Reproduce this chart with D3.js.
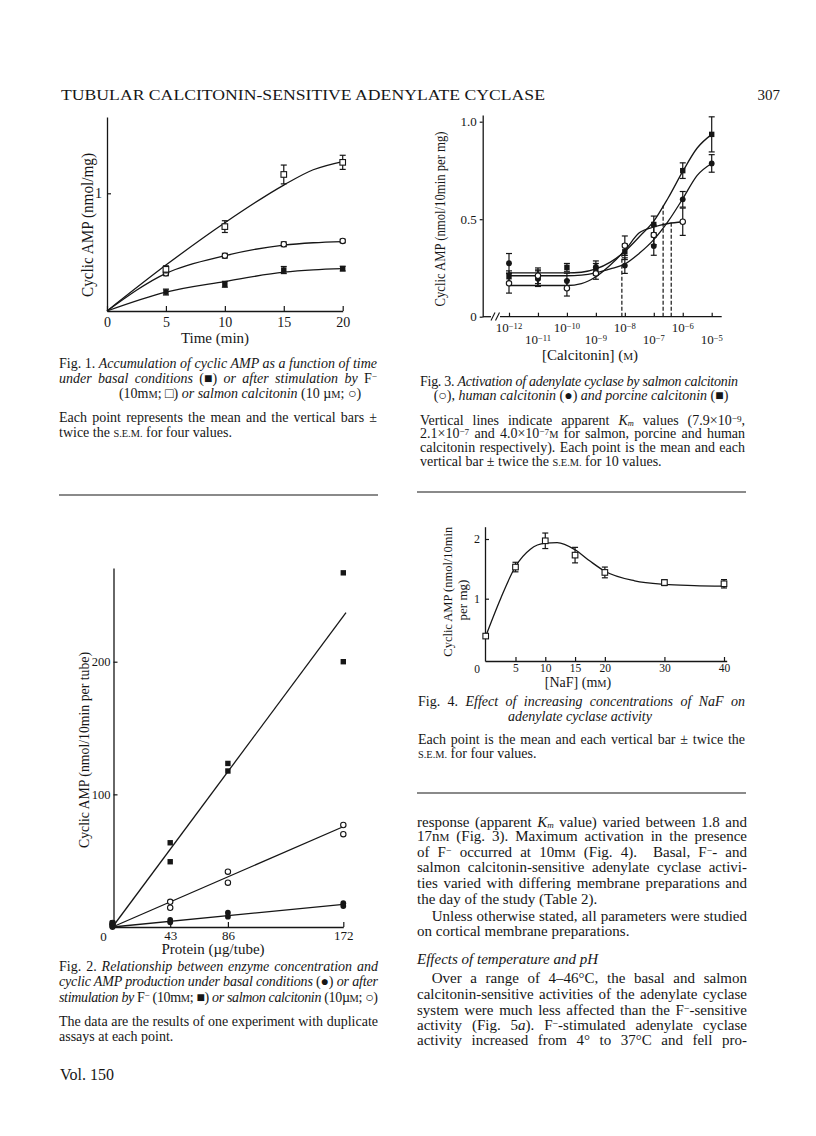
<!DOCTYPE html>
<html>
<head>
<meta charset="utf-8">
<script src="https://cdn.jsdelivr.net/npm/d3@7"></script>
<style>
  body { margin: 0; background: #fff; }
  svg { display: block; }
  text { font-family: "Liberation Serif", "Times New Roman", serif; fill: #161616; }
</style>
</head>
<body>
<div id="page"></div>
<script>
// ===== Fig. 1 : cyclic AMP vs time =====
const f1Time = [5, 10, 15, 20];
const f1Fluoride = [0.354, 0.717, 1.16, 1.263];
const f1FluorideErr = [0.03, 0.05, 0.08, 0.06];
const f1Salmon = [0.32, 0.47, 0.567, 0.595];
const f1SalmonErr = [0.02, 0.02, 0.02, 0.015];
const f1Basal = [0.161, 0.227, 0.348, 0.36];
const f1BasalErr = [0.025, 0.025, 0.03, 0.02];
const f1CurveTime = [0, 5, 10, 15, 17.5, 20];
const f1FluorideCurve = [0, 0.39, 0.75, 1.07, 1.2, 1.27];
const f1SalmonCurve = [0, 0.32, 0.47, 0.56, 0.58, 0.59];
const f1BasalCurve = [0, 0.16, 0.25, 0.33, 0.35, 0.36];
const f1XTicks = [0, 5, 10, 15, 20];
const f1YTicks = [1];

// ===== Fig. 2 : cyclic AMP vs protein (duplicates) =====
const f2Protein = [0, 43, 86, 172];
const f2Fluoride = [[1, 3], [63.5, 49.2], [123.3, 117.6], [267, 200]];
const f2Salmon = [[1, 3], [19, 14.5], [41.7, 33.4], [76.9, 70]];
const f2Basal = [[0, 2], [5.3, 3.5], [10.8, 7.8], [17.9, 15.8]];
const f2LineProtein = [0, 174];
const f2FluorideLine = [0, 237];
const f2SalmonLine = [0, 76.5];
const f2BasalLine = [0, 17.3];
const f2XTicks = [43, 86, 172];
const f2YTicks = [100, 200];

// ===== Fig. 3 : calcitonin dose-response =====
const f3Conc = [1e-12, 1e-11, 1e-10, 1e-9, 1e-8, 1e-7, 1e-6, 1e-5];
const f3Salmon = [0.171, 0.21, 0.146, 0.222, 0.364, 0.419, 0.487, null];
const f3SalmonErr = [0.05, 0.04, 0.04, 0.03, 0.05, 0.05, 0.07, null];
const f3Human = [0.274, 0.195, 0.183, 0.256, 0.262, 0.362, 0.602, 0.786];
const f3HumanErr = [0.05, 0.04, 0.04, 0.03, 0.04, 0.047, 0.04, 0.045];
const f3Porcine = [0.205, 0.2, 0.253, 0.243, 0.333, 0.473, 0.749, 0.935];
const f3PorcineErr = [0.03, 0.04, 0.02, 0.03, 0.04, 0.043, 0.04, 0.09];
const f3CurveConc = [1e-12, 1e-10, 3.16e-10, 1e-9, 3.16e-9, 1e-8, 3.16e-8, 1e-7, 3.16e-7, 1e-6, 3.16e-6, 1e-5];
const f3PorcineCurve = [0.225, 0.225, 0.228, 0.245, 0.28, 0.335, 0.41, 0.49, 0.61, 0.745, 0.865, 0.935];
const f3HumanCurve = [0.21, 0.21, 0.213, 0.225, 0.245, 0.27, 0.325, 0.395, 0.49, 0.605, 0.725, 0.786];
const f3SalmonCurve = [0.16, 0.16, 0.17, 0.205, 0.265, 0.34, 0.43, 0.46, 0.478, 0.487, null, null];
const f3Km = [7.9e-9, 2.1e-7, 4.0e-7];
const f3KmTop = [0.33, 0.57, 0.49];
const f3YTicks = [0, 0.5, 1.0];
const f3Decades = [-12, -11, -10, -9, -8, -7, -6, -5];

// ===== Fig. 4 : NaF concentration =====
const f4NaF = [0, 5, 10, 15, 20, 30, 40];
const f4Camp = [0.374, 1.53, 1.97, 1.73, 1.44, 1.27, 1.25];
const f4Err = [0, 0.08, 0.13, 0.13, 0.09, 0.05, 0.07];
const f4CurveNaF = [0, 2.5, 5, 7.5, 10, 12, 15, 17.5, 20, 25, 30, 35, 40];
const f4Curve = [0.37, 1.0, 1.54, 1.83, 1.93, 1.94, 1.82, 1.63, 1.46, 1.3, 1.24, 1.22, 1.21];
const f4XTicks = [5, 10, 15, 20, 30, 40];
const f4YTicks = [1, 2];

const ink = "#161616";
const capSize = 14;

const svg = d3.select("#page").append("svg").attr("width", 816).attr("height", 1136);
svg.append("rect").attr("width", 816).attr("height", 1136).attr("fill", "#fff");

// ----- helpers -----
function marker(g, kind, x, y) {
  if (kind === "sq") {
    g.append("rect").attr("x", x - 2.7).attr("y", y - 2.7).attr("width", 5.4).attr("height", 5.4).attr("fill", ink);
  } else if (kind === "osq") {
    g.append("rect").attr("x", x - 2.8).attr("y", y - 2.8).attr("width", 5.6).attr("height", 5.6)
      .attr("fill", "#fff").attr("stroke", ink).attr("stroke-width", 1.1);
  } else if (kind === "dot") {
    g.append("circle").attr("cx", x).attr("cy", y).attr("r", 2.9).attr("fill", ink);
  } else {
    g.append("circle").attr("cx", x).attr("cy", y).attr("r", 2.7)
      .attr("fill", "#fff").attr("stroke", ink).attr("stroke-width", 1.1);
  }
}

function errBar(g, x, y1, y2) {
  g.append("line").attr("x1", x).attr("x2", x).attr("y1", y1).attr("y2", y2).attr("stroke", ink).attr("stroke-width", 1.2);
  [y1, y2].forEach((y) =>
    g.append("line").attr("x1", x - 3).attr("x2", x + 3).attr("y1", y).attr("y2", y).attr("stroke", ink).attr("stroke-width", 1.2)
  );
}

function series(g, xs, ys, errs, kind, sx, sy) {
  xs.forEach((xv, i) => {
    if (ys[i] == null) return;
    if (errs && errs[i]) errBar(g, sx(xv), sy(ys[i] + errs[i]), sy(ys[i] - errs[i]));
  });
  xs.forEach((xv, i) => {
    if (ys[i] == null) return;
    marker(g, kind, sx(xv), sy(ys[i]));
  });
}

function curve(g, xs, ys, sx, sy, c) {
  const pts = xs.map((x, i) => [x, ys[i]]).filter((d) => d[1] != null);
  g.append("path").datum(pts)
    .attr("fill", "none").attr("stroke", ink).attr("stroke-width", 1.3)
    .attr("d", d3.line().x((d) => sx(d[0])).y((d) => sy(d[1])).curve(c || d3.curveMonotoneX));
}

function styleAxis(sel, size) {
  sel.attr("font-family", null).attr("font-size", size);
  sel.select(".domain").attr("stroke", ink).attr("stroke-width", 1.3);
  sel.selectAll(".tick line").attr("stroke", ink).attr("stroke-width", 1.2);
  sel.selectAll(".tick text").attr("fill", ink);
}

// rich text line: segs = ["plain", ["text", "i|c|^|_"]]
// o.just = target width -> spread words (or squeeze if too long)
function rich(g, x, y, segs, o = {}) {
  const size = o.size || capSize;
  const t = g.append("text").attr("x", x).attr("y", y).attr("font-size", size)
    .style("white-space", "pre");
  if (o.anchor) t.attr("text-anchor", o.anchor);
  if (o.rotate) t.attr("transform", `rotate(-90,${x},${y})`).attr("dy", "0.35em");
  segs.forEach((s) => {
    const [str, st] = typeof s === "string" ? [s, ""] : s;
    const ts = t.append("tspan").text(str);
    if (st.includes("i")) ts.attr("font-style", "italic");
    if (st.includes("c")) ts.attr("font-size", size * 0.74);
    if (st.includes("^")) ts.attr("baseline-shift", "30%").attr("font-size", size * 0.66);
    if (st.includes("_")) ts.attr("baseline-shift", "-8%").attr("font-size", size * 0.6);
  });
  if (o.width) t.attr("textLength", o.width).attr("lengthAdjust", "spacingAndGlyphs");
  if (o.just) {
    const w = t.node().getComputedTextLength();
    const txt = segs.map((s) => (typeof s === "string" ? s : s[0])).join("");
    const gaps = (txt.match(/ /g) || []).length;
    if (w < o.just && gaps) t.attr("word-spacing", (o.just - w) / gaps);
    else if (w > o.just) t.attr("textLength", o.just).attr("lengthAdjust", "spacing");
  }
  return t;
}

// ===== Header =====
rich(svg, 61, 100, ["TUBULAR CALCITONIN-SENSITIVE ADENYLATE CYCLASE"], { size: 15, width: 484 });
rich(svg, 780, 100, ["307"], { size: 15, anchor: "end" });

// ===============================
// Fig. 1
// ===============================
const g1 = svg.append("g");
const f1x = d3.scaleLinear().domain([0, 20]).range([107, 342.7]);
const f1y = d3.scaleLinear().domain([0, 1]).range([311, 193.3]);
const f1yAxis = f1y.copy().domain([0, f1y.invert(117)]).range([311, 117]);

g1.append("g").attr("transform", "translate(0,311)")
  .call(d3.axisBottom(f1x).tickValues(f1XTicks).tickSizeInner(-5).tickSizeOuter(0).tickPadding(6))
  .call((s) => styleAxis(s, 14));
g1.append("g").attr("transform", "translate(107,0)")
  .call(d3.axisLeft(f1yAxis).tickValues(f1YTicks).tickFormat(d3.format("d")).tickSizeInner(-4).tickSizeOuter(0).tickPadding(5))
  .call((s) => styleAxis(s, 14));

curve(g1, f1CurveTime, f1FluorideCurve, f1x, f1y);
curve(g1, f1CurveTime, f1SalmonCurve, f1x, f1y);
curve(g1, f1CurveTime, f1BasalCurve, f1x, f1y);
series(g1, f1Time, f1Basal, f1BasalErr, "sq", f1x, f1y);
series(g1, f1Time, f1Salmon, f1SalmonErr, "ring", f1x, f1y);
series(g1, f1Time, f1Fluoride, f1FluorideErr, "osq", f1x, f1y);

rich(g1, 215, 343, ["Time (min)"], { size: 15, anchor: "middle" });
rich(g1, 87, 225, ["Cyclic AMP (nmol/mg)"], { size: 16, anchor: "middle", rotate: true, width: 144 });

// caption
rich(svg, 59, 367.5, ["Fig. 1. ", ["Accumulation of cyclic AMP as a function of time", "i"]], { just: 318 });
rich(svg, 59, 382.5, [["under basal conditions ", "i"], "(■)", [" or after stimulation by ", "i"], "F", ["−", "^"]], { just: 318 });
rich(svg, 240, 397.5, ["(10m", ["M", "c"], "; □) ", ["or salmon calcitonin", "i"], " (10 µ", ["M", "c"], "; ○)"], { anchor: "middle" });
rich(svg, 59, 421.5, ["Each point represents the mean and the vertical bars ±"], { just: 318 });
rich(svg, 59, 436.5, ["twice the ", ["S.E.M.", "c"], " for four values."]);

svg.append("line").attr("x1", 59).attr("x2", 378).attr("y1", 495).attr("y2", 495).attr("stroke", ink).attr("stroke-width", 1.2);

// ===============================
// Fig. 3
// ===============================
const g3 = svg.append("g");
const f3x = d3.scaleLog().domain([1e-12, 1e-5]).range([509, 711.7]);
const f3y = d3.scaleLinear().domain([0, 1]).range([316.7, 121.7]);
const f3yAxis = f3y.copy().domain([0, f3y.invert(115)]).range([316.7, 115]);

g3.append("g").attr("transform", "translate(482.7,0)")
  .call(d3.axisLeft(f3yAxis).tickValues(f3YTicks).tickSizeInner(3).tickSizeOuter(0).tickPadding(3)
    .tickFormat((d) => (d === 0 ? "0" : d3.format(".1f")(d))))
  .call((s) => styleAxis(s, 13));

const xa3 = g3.append("g").attr("transform", "translate(0,316.7)")
  .call(d3.axisBottom(f3x).tickValues(f3Decades.map((e) => Math.pow(10, e))).tickFormat(() => "")
    .tickSizeInner(-4).tickSizeOuter(0))
  .call((s) => styleAxis(s, 12));
xa3.select(".domain").remove();
// axis line with break
[[482.7, 491], [500, 721.7]].forEach(([a, b]) =>
  g3.append("line").attr("x1", a).attr("x2", b).attr("y1", 316.7).attr("y2", 316.7).attr("stroke", ink).attr("stroke-width", 1.3)
);
[491, 495.5].forEach((x0) =>
  g3.append("line").attr("x1", x0).attr("x2", x0 + 4).attr("y1", 320.5).attr("y2", 312.5).attr("stroke", ink).attr("stroke-width", 1.1)
);
f3Decades.forEach((e) => {
  const yb = e % 2 === 0 ? 332 : 344;
  rich(g3, f3x(Math.pow(10, e)), yb, ["10", ["−" + Math.abs(e), "^"]], { size: 13, anchor: "middle" });
});

// Km dashed lines
f3Km.forEach((k, i) =>
  g3.append("line").attr("x1", f3x(k)).attr("x2", f3x(k)).attr("y1", f3y(0)).attr("y2", f3y(f3KmTop[i]))
    .attr("stroke", ink).attr("stroke-width", 1.2).attr("stroke-dasharray", "4,2")
);

curve(g3, f3CurveConc, f3PorcineCurve, f3x, f3y);
curve(g3, f3CurveConc, f3HumanCurve, f3x, f3y);
curve(g3, f3CurveConc, f3SalmonCurve, f3x, f3y);
series(g3, f3Conc, f3Human, f3HumanErr, "dot", f3x, f3y);
series(g3, f3Conc, f3Porcine, f3PorcineErr, "sq", f3x, f3y);
series(g3, f3Conc, f3Salmon, f3SalmonErr, "ring", f3x, f3y);

rich(g3, 590, 360, ["[Calcitonin] (", ["M", "c"], ")"], { size: 15, anchor: "middle" });
rich(g3, 440, 219, ["Cyclic AMP (nmol/10min per mg)"], { size: 14, anchor: "middle", rotate: true, width: 175 });

// caption
rich(svg, 420, 386, ["Fig. 3. ", ["Activation of adenylate cyclase by salmon calcitonin", "i"]], { just: 318 });
rich(svg, 581, 399.5, ["(○), ", ["human calcitonin ", "i"], "(●)", [" and porcine calcitonin ", "i"], "(■)"], { anchor: "middle" });
rich(svg, 420, 424.5, ["Vertical lines indicate apparent ", ["K", "i"], ["m", "i_"], " values (7.9×10", ["−9", "^"], ","], { just: 325 });
rich(svg, 420, 438, ["2.1×10", ["−7", "^"], " and 4.0×10", ["−7", "^"], ["M", "c"], " for salmon, porcine and human"], { just: 325 });
rich(svg, 420, 452, ["calcitonin respectively). Each point is the mean and each"], { just: 325 });
rich(svg, 420, 465.5, ["vertical bar ± twice the ", ["S.E.M.", "c"], " for 10 values."]);

svg.append("line").attr("x1", 417).attr("x2", 746).attr("y1", 492).attr("y2", 492).attr("stroke", ink).attr("stroke-width", 1.2);

// ===============================
// Fig. 2
// ===============================
const g2 = svg.append("g");
const f2x = d3.scaleLinear().domain([0, 172]).range([112.5, 343.3]);
const f2y = d3.scaleLinear().domain([0, 200]).range([927, 661.7]);
const f2yAxis = f2y.copy().domain([0, f2y.invert(568)]).range([927, 568]);

g2.append("g").attr("transform", "translate(0,927)")
  .call(d3.axisBottom(f2x).tickValues(f2XTicks).tickSizeInner(-5).tickSizeOuter(0).tickPadding(4))
  .call((s) => styleAxis(s, 13));
g2.append("g").attr("transform", "translate(113.5,0)")
  .call(d3.axisLeft(f2yAxis).tickValues(f2YTicks).tickSizeInner(-4).tickSizeOuter(0).tickPadding(3))
  .call((s) => styleAxis(s, 12.5));
rich(g2, f2x(0) - 9, 940.5, ["0"], { size: 13, anchor: "middle" });

[f2FluorideLine, f2SalmonLine, f2BasalLine].forEach((ln) => curve(g2, f2LineProtein, ln, f2x, f2y, d3.curveLinear));
f2Protein.forEach((p, i) => {
  f2Basal[i].forEach((v) => marker(g2, "dot", f2x(p), f2y(v)));
  f2Salmon[i].forEach((v) => marker(g2, "ring", f2x(p), f2y(v)));
  f2Fluoride[i].forEach((v) => marker(g2, "sq", f2x(p), f2y(v)));
});

rich(g2, 213, 954, ["Protein (µg/tube)"], { size: 15, anchor: "middle" });
rich(g2, 84, 750, ["Cyclic AMP (nmol/10min per tube)"], { size: 14, anchor: "middle", rotate: true, width: 196 });

// caption
rich(svg, 59, 970.5, ["Fig. 2. ", ["Relationship between enzyme concentration and", "i"]], { just: 319 });
rich(svg, 59, 986, [["cyclic AMP production under basal conditions ", "i"], "(●)", [" or after", "i"]], { just: 319 });
rich(svg, 59, 1001.5, [["stimulation by ", "i"], "F", ["−", "^"], " (10m", ["M", "c"], "; ■) ", ["or salmon calcitonin", "i"], " (10µ", ["M", "c"], "; ○)"], { just: 319 });
rich(svg, 59, 1026, ["The data are the results of one experiment with duplicate"], { just: 319 });
rich(svg, 59, 1041, ["assays at each point."]);
rich(svg, 60, 1080, ["Vol. 150"], { size: 16 });

// ===============================
// Fig. 4
// ===============================
const g4 = svg.append("g");
const f4x = d3.scaleLinear().domain([0, 40]).range([485.7, 724]);
const f4y = d3.scaleLinear().domain([1, 2]).range([598.7, 539]);
const f4xAxis = f4x.copy().domain([f4x.invert(485), f4x.invert(726.7)]).range([485, 726.7]);
const f4yAxis = f4y.copy().domain([f4y.invert(661), f4y.invert(526.7)]).range([661, 526.7]);

g4.append("g").attr("transform", "translate(0,661)")
  .call(d3.axisBottom(f4xAxis).tickValues(f4XTicks).tickSizeInner(-4).tickSizeOuter(0).tickPadding(3))
  .call((s) => styleAxis(s, 11.5));
g4.append("g").attr("transform", "translate(485,0)")
  .call(d3.axisLeft(f4yAxis).tickValues(f4YTicks).tickFormat(d3.format("d")).tickSizeInner(-4).tickSizeOuter(0).tickPadding(5))
  .call((s) => styleAxis(s, 12));
rich(g4, 477, 672.5, ["0"], { size: 11.5, anchor: "middle" });

curve(g4, f4CurveNaF, f4Curve, f4x, f4y);
series(g4, f4NaF, f4Camp, f4Err, "osq", f4x, f4y);

rich(g4, 578, 687, ["[NaF] (m", ["M", "c"], ")"], { size: 14, anchor: "middle" });
rich(g4, 447, 591.7, ["Cyclic AMP (nmol/10min"], { size: 13, anchor: "middle", rotate: true, width: 130 });
rich(g4, 462, 600, ["per mg)"], { size: 13, anchor: "middle", rotate: true });

// caption
rich(svg, 418, 706, ["Fig. 4. ", ["Effect of increasing concentrations of NaF on", "i"]], { just: 327 });
rich(svg, 580, 721, [["adenylate cyclase activity", "i"]], { anchor: "middle" });
rich(svg, 418, 744, ["Each point is the mean and each vertical bar ± twice the"], { just: 327 });
rich(svg, 418, 758, [["S.E.M.", "c"], " for four values."]);

svg.append("line").attr("x1", 417).attr("x2", 746).attr("y1", 793).attr("y2", 793).attr("stroke", ink).attr("stroke-width", 1.2);

// ===============================
// Body text (right column)
// ===============================
const bodyLines = [
  { y: 826.5, s: ["response (apparent ", ["K", "i"], ["m", "i_"], " value) varied between 1.8 and"], j: true },
  { y: 841, s: ["17n", ["M", "c"], " (Fig. 3). Maximum activation in the presence"], j: true },
  { y: 856.5, s: ["of F", ["−", "^"], " occurred at 10m", ["M", "c"], " (Fig. 4).  Basal, F", ["−", "^"], "- and"], j: true },
  { y: 872, s: ["salmon calcitonin-sensitive adenylate cyclase activi-"], j: true },
  { y: 888, s: ["ties varied with differing membrane preparations and"], j: true },
  { y: 904, s: ["the day of the study (Table 2)."] },
  { y: 920.5, s: ["Unless otherwise stated, all parameters were studied"], j: true, ind: true },
  { y: 935.5, s: ["on cortical membrane preparations."] },
  { y: 964, s: [["Effects of temperature and pH", "i"]] },
  { y: 983, s: ["Over a range of 4–46°C, the basal and salmon"], j: true, ind: true },
  { y: 998.5, s: ["calcitonin-sensitive activities of the adenylate cyclase"], j: true },
  { y: 1014.5, s: ["system were much less affected than the F", ["−", "^"], "-sensitive"], j: true },
  { y: 1029.5, s: ["activity (Fig. 5", ["a", "i"], "). F", ["−", "^"], "-stimulated adenylate cyclase"], j: true },
  { y: 1044.5, s: ["activity increased from 4° to 37°C and fell pro-"], j: true },
];
bodyLines.forEach((l) => {
  const x = l.ind ? 431.7 : 417;
  rich(svg, x, l.y, l.s, { size: 15, just: l.j ? 747 - x : null });
});
</script>
</body>
</html>
